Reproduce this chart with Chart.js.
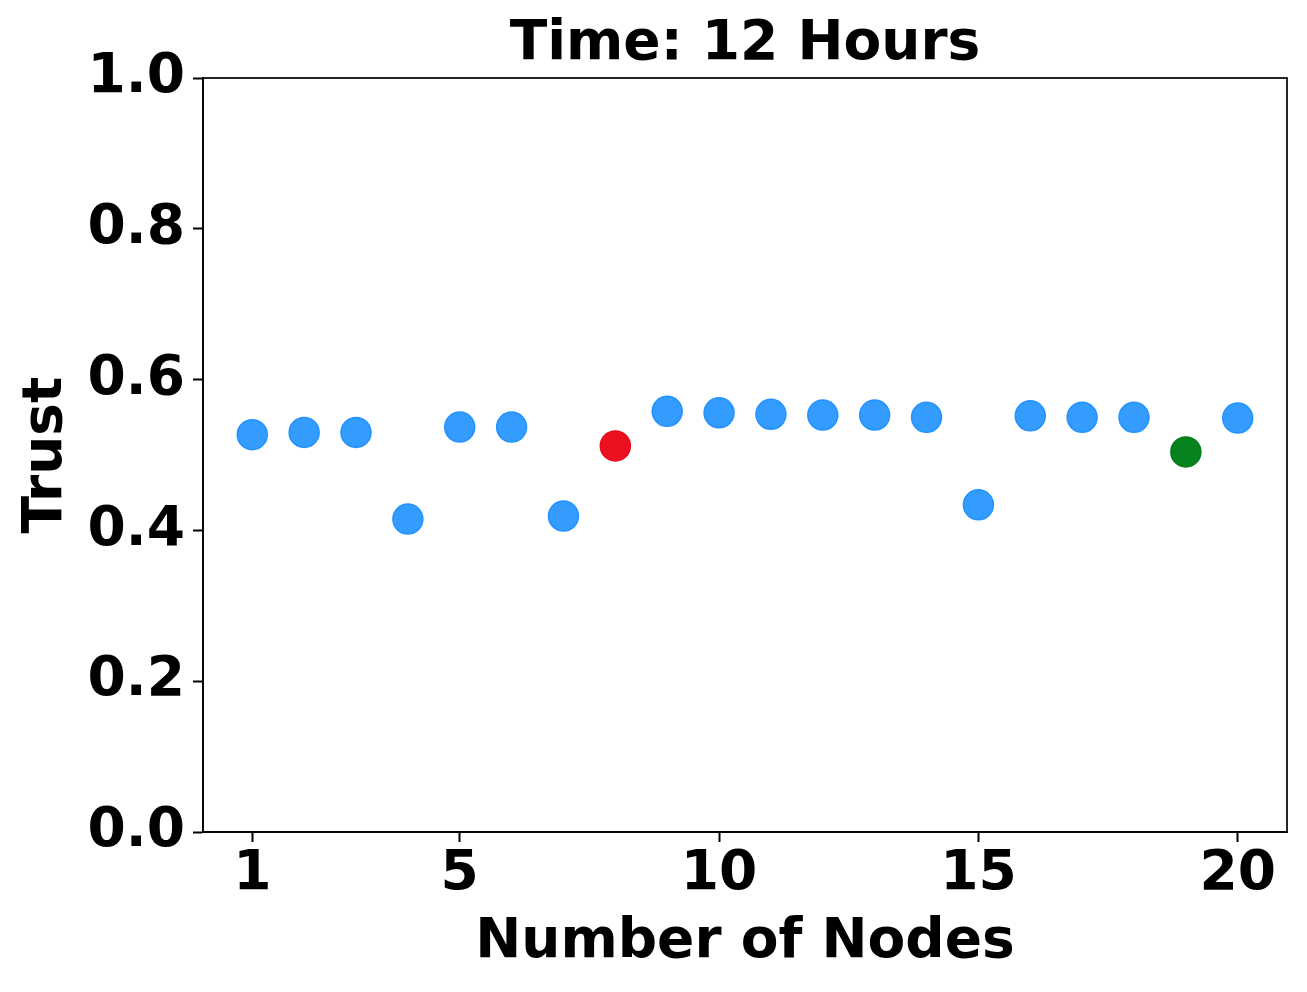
<!DOCTYPE html>
<html>
<head>
<meta charset="utf-8">
<script src="https://cdn.jsdelivr.net/npm/chart.js@4/dist/chart.umd.min.js"></script>
<style>
  html, body { margin: 0; padding: 0; background: #fff; }
</style>
</head>
<body>
<canvas id="chart" width="1307" height="992"></canvas>
<script>
// node ids and trust values
const nodes = [1, 2, 3, 4, 5, 6, 7, 8, 9, 10, 11, 12, 13, 14, 15, 16, 17, 18, 19, 20];
const trust = [0.527, 0.530, 0.530, 0.415, 0.537, 0.537, 0.419, 0.512, 0.558, 0.556,
               0.554, 0.553, 0.553, 0.550, 0.434, 0.552, 0.550, 0.550, 0.504, 0.549];
const redNodes = [8];
const greenNodes = [19];
const xTicks = [1, 5, 10, 15, 20];

const FONT = 'DejaVu Sans';

const pick = (keep) => nodes
  .map((n, i) => ({ x: n, y: trust[i] }))
  .filter(p => keep(p.x));

// black box around the plot area
const frame = {
  id: 'frame',
  afterDraw(chart) {
    const { ctx, chartArea: a } = chart;
    ctx.save();
    ctx.strokeStyle = '#000';
    ctx.lineWidth = 1.7;
    ctx.strokeRect(a.left, a.top, a.right - a.left, a.bottom - a.top);
    ctx.restore();
  }
};

new Chart(document.getElementById('chart').getContext('2d'), {
  type: 'scatter',
  data: {
    datasets: [
      {
        label: 'nodes',
        data: pick(n => !redNodes.includes(n) && !greenNodes.includes(n)),
        backgroundColor: 'rgba(30,144,255,0.9)',
        borderColor: 'rgba(30,144,255,0.95)',
      },
      {
        label: 'red',
        data: pick(n => redNodes.includes(n)),
        backgroundColor: '#ec1020',
        borderColor: '#e60a1a',
      },
      {
        label: 'green',
        data: pick(n => greenNodes.includes(n)),
        backgroundColor: '#06821e',
        borderColor: '#057c1b',
      }
    ]
  },
  options: {
    responsive: false,
    animation: false,
    devicePixelRatio: 1,
    elements: { point: { radius: 15, borderWidth: 1.5, hoverRadius: 15 } },
    layout: { padding: { top: 0, right: 20, bottom: 0, left: 0 } },
    plugins: {
      legend: { display: false },
      tooltip: { enabled: false },
      title: {
        display: true,
        fullSize: false,
        text: 'Time: 12 Hours',
        color: '#000',
        font: { family: FONT, size: 55, weight: 'bold', lineHeight: 1.1 },
        padding: { top: 14, bottom: 3.5 }
      }
    },
    scales: {
      x: {
        type: 'linear',
        min: 0.05,
        max: 20.95,
        afterBuildTicks: (s) => { s.ticks = xTicks.map(v => ({ value: v })); },
        afterFit: (s) => { s.height = 160; },
        grid: { drawOnChartArea: false, drawTicks: true, tickLength: 10, tickWidth: 2, tickColor: '#000' },
        border: { display: true, color: '#000', width: 1.7 },
        ticks: {
          color: '#000',
          padding: 0,
          maxRotation: 0,
          font: { family: FONT, size: 55, weight: 'bold', lineHeight: 1.2 },
          callback: (v) => String(v)
        },
        title: {
          display: true,
          text: 'Number of Nodes',
          color: '#000',
          font: { family: FONT, size: 55, weight: 'bold', lineHeight: 1.2 },
          padding: { top: 0, bottom: 16 }
        }
      },
      y: {
        min: 0,
        max: 1,
        afterFit: (s) => { s.width = 203; },
        grid: { drawOnChartArea: false, drawTicks: true, tickLength: 10, tickWidth: 2, tickColor: '#000' },
        border: { display: true, color: '#000', width: 1.7 },
        ticks: {
          stepSize: 0.2,
          color: '#000',
          padding: 8,
          font: { family: FONT, size: 55, weight: 'bold', lineHeight: 1.2 },
          callback: (v) => Number(v).toFixed(1)
        },
        title: {
          display: true,
          text: 'Trust',
          color: '#000',
          font: { family: FONT, size: 55, weight: 'bold', lineHeight: 1.2 },
          padding: { top: 14, bottom: 0 }
        }
      }
    }
  },
  plugins: [frame]
});
</script>
</body>
</html>
